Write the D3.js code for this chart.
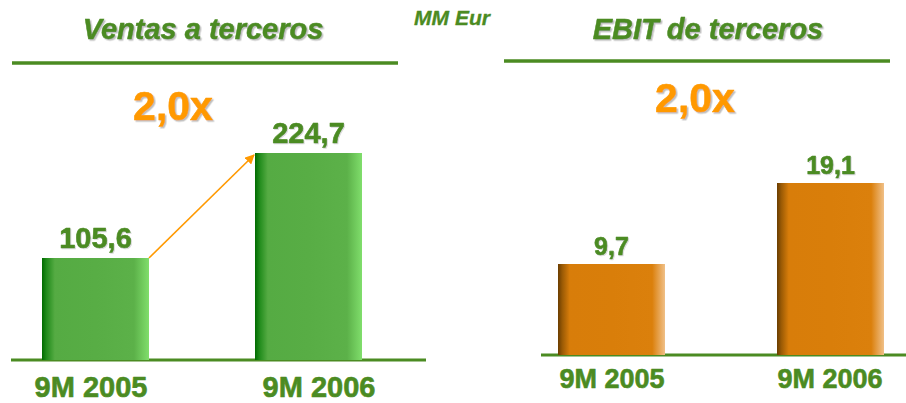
<!DOCTYPE html>
<html>
<head>
<meta charset="utf-8">
<script src="https://cdn.jsdelivr.net/npm/d3@7"></script>
<style>
  html, body { margin: 0; padding: 0; background: #fff; }
  svg { display: block; font-family: "Liberation Sans", Arial, sans-serif; }
</style>
</head>
<body>
<svg id="chart" width="906" height="403"></svg>
<script>
// Periods shown in both panels
const categories = ["9M 2005", "9M 2006"];
// Ventas a terceros (MM Eur)
const ventas = [105.6, 224.7];
// EBIT de terceros (MM Eur)
const ebit = [9.7, 19.1];
// Growth multiples shown above each panel
const ventasGrowth = "2,0x";
const ebitGrowth = "2,0x";
const titles = ["Ventas a terceros", "EBIT de terceros"];
const unitLabel = "MM Eur";

const GREEN = "#4b8b22";
const ORANGE = "#ff9900";

const fmt = d3.formatLocale({ decimal: ",", thousands: ".", grouping: [3], currency: ["", "€"] }).format(".1f");

const svg = d3.select("#chart");
const defs = svg.append("defs");

// Soft grey drop shadow used on headings and numbers
const sh = defs.append("filter").attr("id", "shadow")
  .attr("x", "-10%").attr("y", "-10%").attr("width", "130%").attr("height", "140%");
sh.append("feDropShadow").attr("dx", 1.5).attr("dy", 1.5).attr("stdDeviation", 0.6)
  .attr("flood-color", "#888").attr("flood-opacity", 0.55);
const shLight = defs.append("filter").attr("id", "shadowLight")
  .attr("x", "-10%").attr("y", "-10%").attr("width", "130%").attr("height", "140%");
shLight.append("feDropShadow").attr("dx", 1).attr("dy", 1).attr("stdDeviation", 0.5)
  .attr("flood-color", "#999").attr("flood-opacity", 0.35);

// Horizontal cylinder-like shading for the bars
function barGradient(id, stops) {
  const g = defs.append("linearGradient").attr("id", id)
    .attr("x1", "0%").attr("x2", "100%").attr("y1", "0%").attr("y2", "0%");
  stops.forEach(([o, c]) => g.append("stop").attr("offset", o).attr("stop-color", c));
}
barGradient("gGreen", [["0%", "#006b00"], ["4%", "#1f8a1a"], ["12%", "#55ab43"], ["50%", "#58ad45"], ["86%", "#5cb149"], ["100%", "#80de6c"]]);
barGradient("gOrange", [["0%", "#6a3d00"], ["4%", "#9a5a05"], ["11%", "#d87d0a"], ["50%", "#d97e0a"], ["88%", "#db800c"], ["100%", "#f0c088"]]);

defs.append("marker").attr("id", "arrowHead")
  .attr("viewBox", "0 0 10 10").attr("refX", 9).attr("refY", 5)
  .attr("markerWidth", 6).attr("markerHeight", 6).attr("orient", "auto")
  .append("path").attr("d", "M0,0 L10,5 L0,10 Z").attr("fill", ORANGE);

// Bold text with a hairline outline in its own colour, for a heavier weight
function heavy(sel, color, w) {
  return sel.attr("fill", color).attr("stroke", color)
    .attr("stroke-width", w).attr("stroke-linejoin", "round").attr("paint-order", "stroke");
}

function panel(cfg) {
  const g = svg.append("g");

  // Title and its rule
  heavy(g.append("text").attr("x", cfg.titleX).attr("y", cfg.titleY)
    .attr("text-anchor", "middle").attr("font-size", 29).attr("font-weight", "bold")
    .attr("font-style", "italic").attr("filter", "url(#shadow)")
    .text(cfg.title), GREEN, 0.5);
  g.append("line").attr("x1", cfg.ruleX[0]).attr("x2", cfg.ruleX[1])
    .attr("y1", cfg.ruleY).attr("y2", cfg.ruleY)
    .attr("stroke", GREEN).attr("stroke-width", 3.5);

  // Growth multiple
  heavy(g.append("text").attr("x", cfg.growthX).attr("y", cfg.growthY)
    .attr("text-anchor", "middle").attr("font-size", 41).attr("font-weight", "bold")
    .attr("filter", "url(#shadow)")
    .text(cfg.growth), ORANGE, 0.6);

  const x = d3.scalePoint().domain(categories).range(cfg.xRange);
  const xLab = d3.scalePoint().domain(categories).range(cfg.labelRange);
  const y = d3.scaleLinear().domain(cfg.yDomain).range(cfg.yRange);
  const base = y(cfg.yDomain[0]);
  const bw = cfg.barWidth;
  const data = categories.map((c, i) => ({ c, v: cfg.values[i] }));

  // Baseline
  g.append("line").attr("x1", cfg.baseX[0]).attr("x2", cfg.baseX[1])
    .attr("y1", base).attr("y2", base)
    .attr("stroke", GREEN).attr("stroke-width", 3);

  g.selectAll("rect.bar").data(data).enter().append("rect")
    .attr("class", "bar")
    .attr("x", d => x(d.c) - bw / 2)
    .attr("width", bw)
    .attr("y", d => y(d.v))
    .attr("height", d => base - y(d.v))
    .attr("fill", cfg.fill);

  heavy(g.selectAll("text.val").data(data).enter().append("text")
    .attr("class", "val")
    .attr("x", d => x(d.c))
    .attr("y", d => y(d.v) - cfg.valGap)
    .attr("text-anchor", "middle").attr("font-size", cfg.valSize).attr("font-weight", "bold")
    .attr("filter", "url(#shadowLight)")
    .text(d => fmt(d.v)), GREEN, 0.6);

  heavy(g.selectAll("text.cat").data(data).enter().append("text")
    .attr("class", "cat")
    .attr("x", d => xLab(d.c))
    .attr("y", cfg.catY)
    .attr("text-anchor", "middle").attr("font-size", cfg.catSize).attr("font-weight", "bold")
    .text(d => d.c), GREEN, 0.6);

  if (cfg.arrow) {
    g.append("line")
      .attr("x1", x(categories[0]) + bw / 2).attr("y1", y(data[0].v))
      .attr("x2", x(categories[1]) - bw / 2 - 1).attr("y2", y(data[1].v) + 2)
      .attr("stroke", ORANGE).attr("stroke-width", 1.6)
      .attr("marker-end", "url(#arrowHead)");
  }
}

panel({
  title: titles[0], titleX: 203, titleY: 39,
  ruleX: [12, 398], ruleY: 63,
  growth: ventasGrowth, growthX: 173, growthY: 120,
  values: ventas, xRange: [95.5, 308.5], labelRange: [91, 319], barWidth: 107,
  yDomain: [-10.1, 224.7], yRange: [360, 153],
  baseX: [11, 426], fill: "url(#gGreen)",
  valGap: 10, valSize: 29, catY: 397, catSize: 29, arrow: true
});

panel({
  title: titles[1], titleX: 708, titleY: 39,
  ruleX: [504, 890], ruleY: 61,
  growth: ebitGrowth, growthX: 695, growthY: 112,
  values: ebit, xRange: [611.5, 830.5], labelRange: [612, 830], barWidth: 107,
  yDomain: [-0.86, 19.1], yRange: [355, 183],
  baseX: [541, 906], fill: "url(#gOrange)",
  valGap: 9, valSize: 25, catY: 388, catSize: 27, arrow: false
});

// Unit note
heavy(svg.append("text").attr("x", 452).attr("y", 25).attr("text-anchor", "middle")
  .attr("font-size", 21).attr("font-weight", "bold").attr("font-style", "italic")
  .text(unitLabel), GREEN, 0.3);
</script>
</body>
</html>
